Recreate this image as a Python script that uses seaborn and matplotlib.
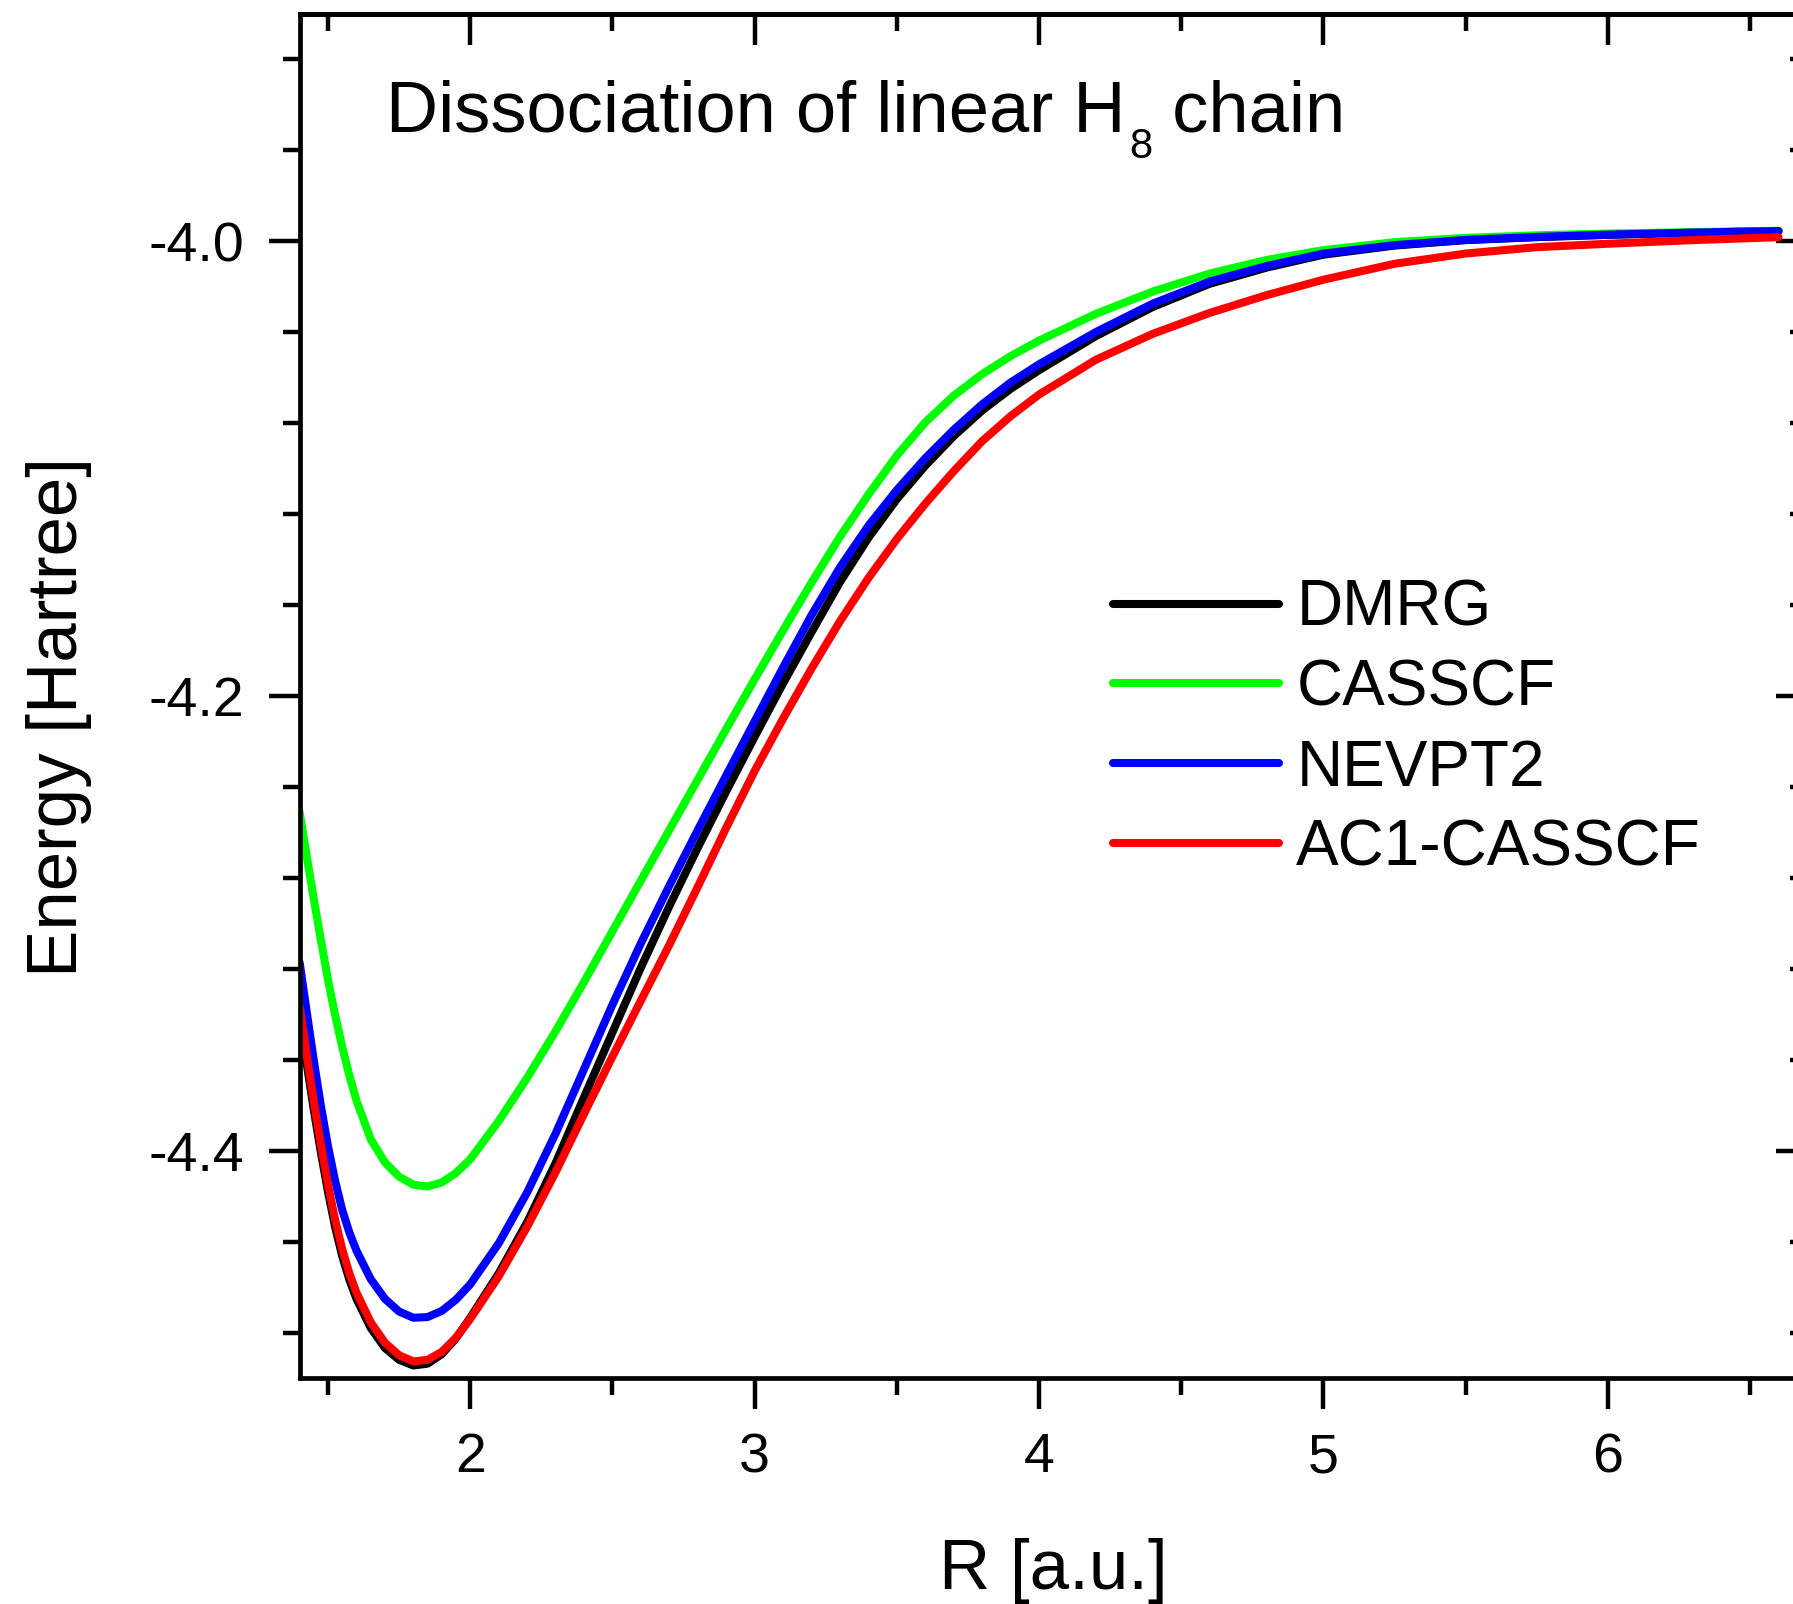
import matplotlib
matplotlib.use('Agg')
import matplotlib.pyplot as plt
from matplotlib.ticker import MultipleLocator, FormatStrFormatter
from matplotlib.transforms import offset_copy
import seaborn as sns

# bond distance R [a.u.] and energies [Hartree]
r = [1.40, 1.425, 1.45, 1.475, 1.50, 1.525, 1.55, 1.575, 1.60, 1.65, 1.70, 1.75,
     1.80, 1.85, 1.90, 1.95, 2.00, 2.10, 2.20, 2.30, 2.40, 2.50, 2.60, 2.70,
     2.80, 2.90, 3.00, 3.10, 3.20, 3.30, 3.40, 3.50, 3.60, 3.70, 3.80, 3.90,
     4.00, 4.20, 4.40, 4.60, 4.80, 5.00, 5.25, 5.50, 5.75, 6.00, 6.30, 6.60]

dmrg = [-4.3405, -4.3618, -4.3822, -4.4010, -4.4183, -4.4337, -4.4465, -4.4568,
        -4.4652, -4.4780, -4.4868, -4.4920, -4.4945, -4.4937, -4.4895, -4.4825,
        -4.4735, -4.4540, -4.4315, -4.4055, -4.3765, -4.3480, -4.3195, -4.2925,
        -4.2668, -4.2420, -4.2180, -4.1945, -4.1720, -4.1500, -4.1305, -4.1135,
        -4.0988, -4.0858, -4.0745, -4.0650, -4.0568, -4.0418, -4.0290, -4.0188,
        -4.0117, -4.0060, -4.0020, -3.9996, -3.9983, -3.9973, -3.9963, -3.9956]

casscf = [-4.2510, -4.2705, -4.2895, -4.3075, -4.3250, -4.3405, -4.3545, -4.3670,
          -4.3780, -4.3950, -4.4052, -4.4115, -4.4150, -4.4158, -4.4140, -4.4098,
          -4.4038, -4.3870, -4.3680, -4.3475, -4.3258, -4.3035, -4.2812, -4.2590,
          -4.2368, -4.2146, -4.1927, -4.1712, -4.1502, -4.1300, -4.1115, -4.0943,
          -4.0797, -4.0680, -4.0585, -4.0506, -4.0438, -4.0320, -4.0222, -4.0143,
          -4.0083, -4.0040, -4.0005, -3.9986, -3.9975, -3.9967, -3.9961, -3.9955]

nevpt2 = [-4.3172, -4.3390, -4.3604, -4.3805, -4.3982, -4.4134, -4.4262, -4.4360,
          -4.4440, -4.4565, -4.4652, -4.4708, -4.4735, -4.4732, -4.4705, -4.4655,
          -4.4588, -4.4408, -4.4184, -4.3925, -4.3642, -4.3358, -4.3088, -4.2835,
          -4.2590, -4.2350, -4.2112, -4.1875, -4.1645, -4.1435, -4.1252, -4.1095,
          -4.0955, -4.0830, -4.0718, -4.0622, -4.0542, -4.0400, -4.0275, -4.0178,
          -4.0110, -4.0055, -4.0018, -3.9995, -3.9982, -3.9972, -3.9963, -3.9956]

ac1_casscf = [-4.3365, -4.3580, -4.3785, -4.3975, -4.4150, -4.4305, -4.4435, -4.4540,
              -4.4625, -4.4755, -4.4845, -4.4900, -4.4927, -4.4920, -4.4885, -4.4822,
              -4.4740, -4.4553, -4.4335, -4.4095, -4.3838, -4.3586, -4.3340, -4.3095,
              -4.2840, -4.2580, -4.2330, -4.2100, -4.1880, -4.1672, -4.1482, -4.1310,
              -4.1155, -4.1012, -4.0880, -4.0770, -4.0675, -4.0522, -4.0408, -4.0316,
              -4.0238, -4.0170, -4.0100, -4.0055, -4.0027, -4.0012, -3.9996, -3.9983]

series = [("DMRG", dmrg, "#000000"),
          ("CASSCF", casscf, "#00ff00"),
          ("NEVPT2", nevpt2, "#0000ff"),
          ("AC1-CASSCF", ac1_casscf, "#ff0000")]

sns.set_style("ticks")
plt.rcParams['font.family'] = ['Liberation Sans', 'DejaVu Sans']
plt.rcParams['axes.unicode_minus'] = False
for k in ['text.color', 'axes.labelcolor', 'xtick.color', 'ytick.color', 'axes.edgecolor']:
    plt.rcParams[k] = 'black'

fig = plt.figure(figsize=(17.93, 16.04), dpi=100)
ax = fig.add_axes([0.1671, 0.1409, 0.8407, 0.8506])

for name, vals, col in series:
    sns.lineplot(x=r, y=vals, color=col, lw=5.8, label=name, ax=ax,
                 solid_capstyle='round', solid_joinstyle='round')

ax.set_xlim(1.4, 6.7)
ax.set_ylim(-4.5, -3.9)
ax.xaxis.set_major_locator(MultipleLocator(1))
ax.xaxis.set_minor_locator(MultipleLocator(0.5))
ax.yaxis.set_major_locator(MultipleLocator(0.2))
ax.yaxis.set_minor_locator(MultipleLocator(0.04))
ax.yaxis.set_major_formatter(FormatStrFormatter('%.1f'))

for s in ax.spines.values():
    s.set_linewidth(3.4)

ax.tick_params(which='major', direction='out', length=22, width=3.2, labelsize=40)
ax.tick_params(which='minor', direction='out', length=12, width=3.2)
ax.tick_params(axis='x', which='major', pad=17)
ax.tick_params(axis='y', which='major', pad=18)

# inward ticks on the top and right sides
top = ax.secondary_xaxis('top')
top.xaxis.set_major_locator(MultipleLocator(1))
top.xaxis.set_minor_locator(MultipleLocator(0.5))
top.tick_params(which='major', direction='in', length=22, width=3.2, labeltop=False)
top.tick_params(which='minor', direction='in', length=12, width=3.2)
top.spines['top'].set_linewidth(3.4)

right = ax.secondary_yaxis('right')
right.yaxis.set_major_locator(MultipleLocator(0.2))
right.yaxis.set_minor_locator(MultipleLocator(0.04))
right.tick_params(which='major', direction='in', length=22, width=3.2, labelright=False)
right.tick_params(which='minor', direction='in', length=12, width=3.2)
right.spines['right'].set_linewidth(3.4)

ax.set_xlabel('R [a.u.]', fontsize=51)
ax.set_ylabel('Energy [Hartree]', fontsize=51)
ax.xaxis.set_label_coords(0.5, -0.117)
ax.yaxis.set_label_coords(-0.1375, 0.4845)

ax.legend(loc='upper left', bbox_to_anchor=(0.5396, 0.5857), frameon=False,
          fontsize=46, handlelength=2.6, handletextpad=0.27, labelspacing=0.31,
          borderpad=0, borderaxespad=0)

# title inside the axes, with a low subscript "8"
tx, ty = 0.0576, 0.9133
fig.canvas.draw()
renderer = fig.canvas.get_renderer()
t1 = ax.text(tx, ty, 'Dissociation of linear H', transform=ax.transAxes,
             fontsize=52, ha='left', va='baseline')
w1 = t1.get_window_extent(renderer).width
t2 = ax.text(tx, ty, '8', fontsize=30, ha='left', va='baseline',
             transform=offset_copy(ax.transAxes, fig=fig, x=w1 + 3, y=-26, units='dots'))
w2 = t2.get_window_extent(renderer).width
ax.text(tx, ty, ' chain', fontsize=52, ha='left', va='baseline',
        transform=offset_copy(ax.transAxes, fig=fig, x=w1 + 3 + w2, y=0, units='dots'))

fig.savefig('out.png', dpi=100)
